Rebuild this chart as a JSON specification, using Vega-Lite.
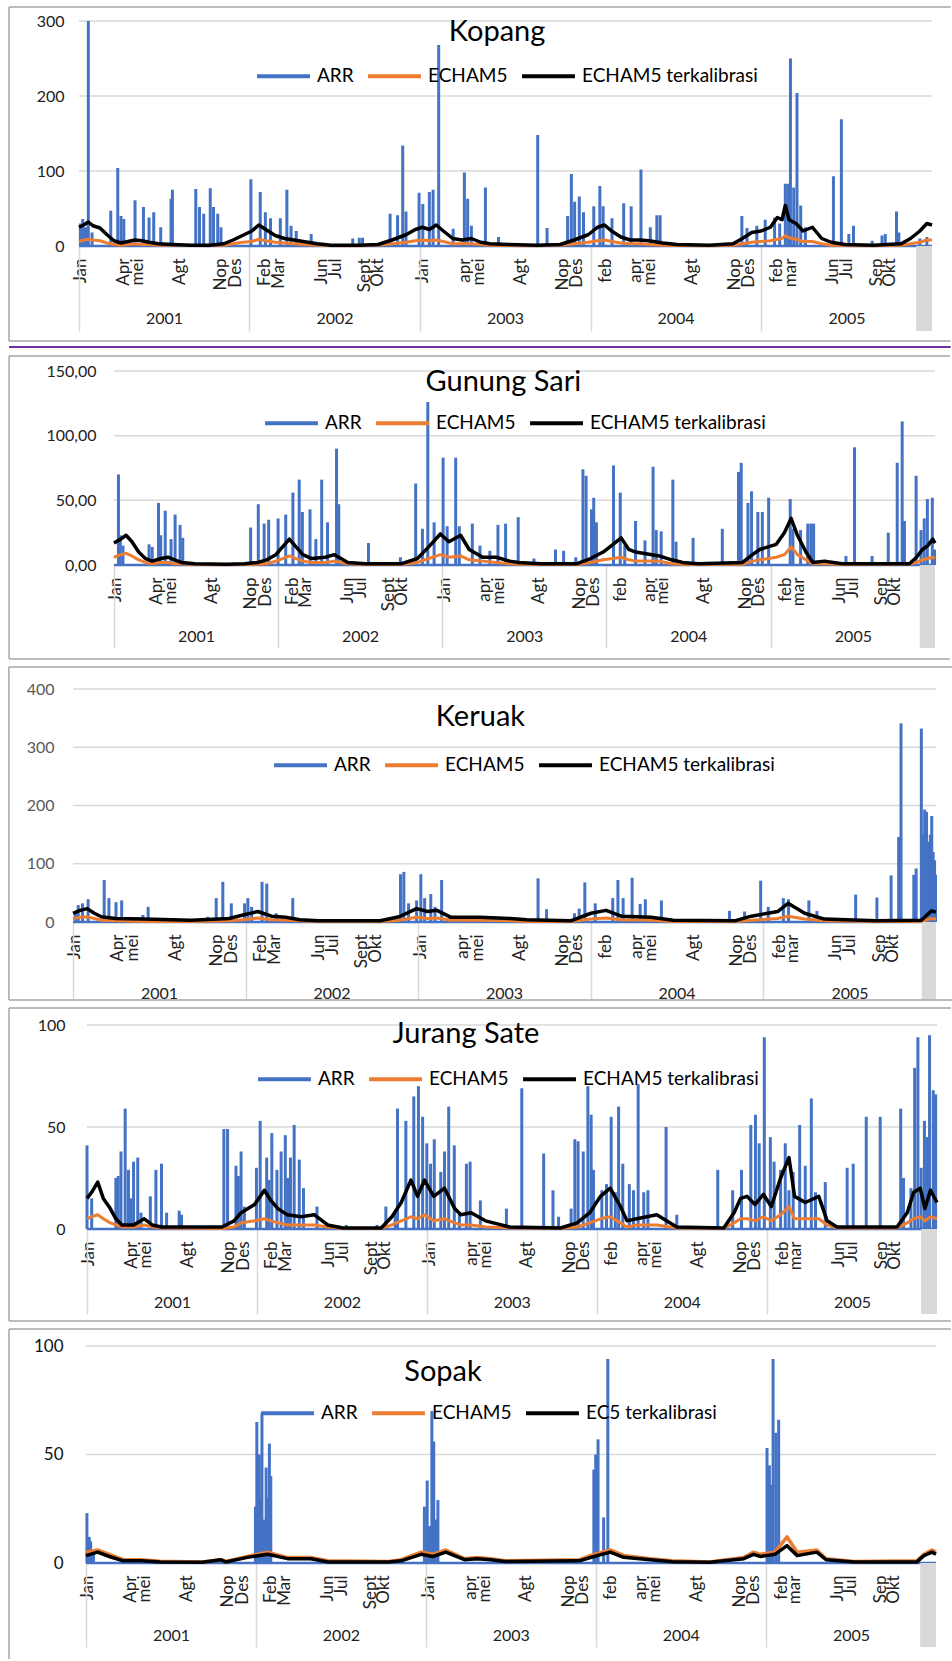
{
"$schema":"https://vega.github.io/schema/vega-lite/v6.json",
"padding":{"left":8,"top":6,"right":0,"bottom":0},
"spacing":6,
"background":"white",
"datasets":{
"kA":[{"d":3,"a":30},{"d":8,"a":36},{"d":14,"a":25},{"d":20,"a":300},{"d":28,"a":18},{"d":68,"a":47},{"d":83,"a":104},{"d":90,"a":40},{"d":96,"a":36},{"d":120,"a":61},{"d":138,"a":52},{"d":150,"a":38},{"d":160,"a":45},{"d":175,"a":25},{"d":197,"a":63},{"d":200,"a":75},{"d":250,"a":76},{"d":258,"a":52},{"d":267,"a":43},{"d":281,"a":77},{"d":288,"a":52},{"d":297,"a":43},{"d":304,"a":25},{"d":368,"a":89},{"d":388,"a":72},{"d":399,"a":45},{"d":410,"a":37},{"d":431,"a":37},{"d":445,"a":75},{"d":454,"a":27},{"d":465,"a":20},{"d":497,"a":16},{"d":586,"a":10},{"d":600,"a":11},{"d":607,"a":11},{"d":666,"a":43},{"d":682,"a":41},{"d":693,"a":134},{"d":700,"a":46},{"d":728,"a":71},{"d":736,"a":56},{"d":750,"a":72},{"d":758,"a":75},{"d":770,"a":268},{"d":801,"a":23},{"d":825,"a":98},{"d":832,"a":63},{"d":840,"a":27},{"d":870,"a":78},{"d":898,"a":12},{"d":982,"a":148},{"d":1002,"a":24},{"d":1046,"a":40},{"d":1054,"a":96},{"d":1061,"a":59},{"d":1071,"a":66},{"d":1080,"a":45},{"d":1102,"a":53},{"d":1115,"a":80},{"d":1122,"a":53},{"d":1141,"a":37},{"d":1166,"a":57},{"d":1182,"a":53},{"d":1203,"a":102},{"d":1223,"a":25},{"d":1237,"a":41},{"d":1244,"a":41},{"d":1419,"a":40},{"d":1430,"a":24},{"d":1451,"a":27},{"d":1469,"a":35},{"d":1489,"a":38},{"d":1500,"a":30},{"d":1512,"a":83},{"d":1518,"a":83},{"d":1523,"a":250},{"d":1530,"a":78},{"d":1537,"a":204},{"d":1545,"a":54},{"d":1555,"a":25},{"d":1615,"a":93},{"d":1632,"a":169},{"d":1648,"a":16},{"d":1658,"a":27},{"d":1698,"a":7},{"d":1719,"a":14},{"d":1726,"a":16},{"d":1750,"a":46},{"d":1755,"a":18},{"d":1800,"a":10},{"d":1815,"a":12}],
"kM":[{"d":0,"e":6,"k":25},{"d":10,"e":8,"k":28},{"d":20,"e":9,"k":32},{"d":30,"e":8,"k":27},{"d":45,"e":7,"k":24},{"d":60,"e":4,"k":15},{"d":75,"e":2,"k":7},{"d":90,"e":1,"k":4},{"d":105,"e":2,"k":6},{"d":120,"e":3,"k":8},{"d":135,"e":2,"k":7},{"d":150,"e":2,"k":5},{"d":170,"e":1,"k":3},{"d":200,"e":1,"k":2},{"d":240,"e":0.5,"k":1},{"d":280,"e":0.5,"k":1},{"d":310,"e":1,"k":3},{"d":330,"e":3,"k":8},{"d":350,"e":5,"k":14},{"d":370,"e":6,"k":20},{"d":385,"e":9,"k":28},{"d":400,"e":7,"k":22},{"d":420,"e":5,"k":14},{"d":440,"e":4,"k":10},{"d":460,"e":3,"k":8},{"d":480,"e":2,"k":6},{"d":510,"e":1,"k":3},{"d":540,"e":0.5,"k":1},{"d":600,"e":0.5,"k":1},{"d":640,"e":1,"k":2},{"d":670,"e":3,"k":8},{"d":700,"e":5,"k":15},{"d":720,"e":7,"k":22},{"d":735,"e":8,"k":25},{"d":750,"e":7,"k":22},{"d":765,"e":8,"k":28},{"d":780,"e":6,"k":20},{"d":800,"e":3,"k":10},{"d":820,"e":3,"k":8},{"d":840,"e":3,"k":10},{"d":860,"e":2,"k":5},{"d":880,"e":1,"k":3},{"d":920,"e":0.5,"k":2},{"d":980,"e":0.3,"k":1},{"d":1030,"e":1,"k":2},{"d":1060,"e":3,"k":8},{"d":1090,"e":5,"k":15},{"d":1110,"e":7,"k":25},{"d":1125,"e":8,"k":28},{"d":1140,"e":6,"k":20},{"d":1160,"e":4,"k":12},{"d":1180,"e":3,"k":8},{"d":1200,"e":3,"k":8},{"d":1220,"e":2,"k":7},{"d":1250,"e":1,"k":4},{"d":1280,"e":0.5,"k":2},{"d":1350,"e":0.3,"k":1},{"d":1400,"e":1,"k":3},{"d":1420,"e":3,"k":10},{"d":1440,"e":5,"k":18},{"d":1460,"e":6,"k":20},{"d":1480,"e":7,"k":25},{"d":1495,"e":9,"k":38},{"d":1505,"e":10,"k":35},{"d":1512,"e":14,"k":54},{"d":1520,"e":11,"k":35},{"d":1535,"e":9,"k":30},{"d":1550,"e":6,"k":20},{"d":1570,"e":6,"k":25},{"d":1590,"e":3,"k":10},{"d":1610,"e":1,"k":5},{"d":1640,"e":0.5,"k":2},{"d":1700,"e":0.3,"k":1},{"d":1760,"e":1,"k":3},{"d":1780,"e":3,"k":10},{"d":1800,"e":5,"k":20},{"d":1815,"e":8,"k":30},{"d":1826,"e":8,"k":28}],
"gA":[{"d":10,"a":70},{"d":14,"a":23},{"d":20,"a":15},{"d":78,"a":16},{"d":85,"a":14},{"d":99,"a":48},{"d":104,"a":23},{"d":114,"a":42},{"d":127,"a":20},{"d":136,"a":39},{"d":147,"a":31},{"d":153,"a":21},{"d":304,"a":29},{"d":321,"a":47},{"d":334,"a":32},{"d":344,"a":35},{"d":365,"a":36},{"d":382,"a":39},{"d":398,"a":56},{"d":412,"a":66},{"d":419,"a":41},{"d":436,"a":43},{"d":449,"a":20},{"d":462,"a":66},{"d":475,"a":33},{"d":495,"a":90},{"d":500,"a":47},{"d":566,"a":17},{"d":637,"a":6},{"d":671,"a":63},{"d":686,"a":28},{"d":698,"a":126},{"d":712,"a":33},{"d":732,"a":83},{"d":741,"a":30},{"d":760,"a":83},{"d":768,"a":30},{"d":797,"a":32},{"d":814,"a":15},{"d":836,"a":11},{"d":854,"a":31},{"d":871,"a":32},{"d":899,"a":37},{"d":934,"a":5},{"d":982,"a":12},{"d":1000,"a":11},{"d":1027,"a":6},{"d":1043,"a":74},{"d":1050,"a":69},{"d":1062,"a":43},{"d":1067,"a":52},{"d":1073,"a":33},{"d":1111,"a":77},{"d":1126,"a":56},{"d":1136,"a":15},{"d":1160,"a":34},{"d":1181,"a":19},{"d":1199,"a":76},{"d":1206,"a":27},{"d":1217,"a":26},{"d":1243,"a":66},{"d":1250,"a":18},{"d":1288,"a":21},{"d":1353,"a":28},{"d":1389,"a":72},{"d":1395,"a":79},{"d":1410,"a":48},{"d":1418,"a":57},{"d":1432,"a":41},{"d":1442,"a":41},{"d":1456,"a":52},{"d":1504,"a":51},{"d":1510,"a":28},{"d":1527,"a":27},{"d":1543,"a":32},{"d":1550,"a":32},{"d":1556,"a":32},{"d":1628,"a":7},{"d":1647,"a":91},{"d":1686,"a":7},{"d":1722,"a":25},{"d":1742,"a":79},{"d":1753,"a":111},{"d":1758,"a":34},{"d":1784,"a":69},{"d":1795,"a":27},{"d":1802,"a":36},{"d":1809,"a":51},{"d":1820,"a":52},{"d":1825,"a":12}],
"gM":[{"d":0,"e":6,"k":17},{"d":15,"e":8,"k":20},{"d":27,"e":9,"k":23},{"d":40,"e":7,"k":18},{"d":55,"e":4,"k":10},{"d":70,"e":2,"k":5},{"d":85,"e":1,"k":3},{"d":105,"e":2,"k":5},{"d":120,"e":2,"k":6},{"d":135,"e":1,"k":4},{"d":150,"e":1,"k":2},{"d":180,"e":0.3,"k":1},{"d":250,"e":0.2,"k":0.5},{"d":290,"e":0.3,"k":1},{"d":320,"e":0.5,"k":2},{"d":340,"e":1,"k":4},{"d":360,"e":3,"k":8},{"d":375,"e":5,"k":14},{"d":390,"e":7,"k":20},{"d":405,"e":5,"k":14},{"d":420,"e":3,"k":8},{"d":440,"e":2,"k":5},{"d":470,"e":2,"k":6},{"d":490,"e":3,"k":8},{"d":505,"e":2,"k":5},{"d":520,"e":1,"k":2},{"d":560,"e":0.3,"k":1},{"d":640,"e":0.3,"k":1},{"d":675,"e":2,"k":5},{"d":700,"e":5,"k":14},{"d":726,"e":8,"k":24},{"d":745,"e":6,"k":18},{"d":771,"e":7,"k":23},{"d":790,"e":4,"k":12},{"d":820,"e":3,"k":6},{"d":850,"e":2,"k":6},{"d":880,"e":1,"k":3},{"d":900,"e":0.5,"k":2},{"d":950,"e":0.3,"k":1},{"d":1030,"e":0.3,"k":1},{"d":1060,"e":2,"k":5},{"d":1088,"e":4,"k":10},{"d":1110,"e":5,"k":16},{"d":1128,"e":6,"k":21},{"d":1145,"e":4,"k":12},{"d":1160,"e":3,"k":10},{"d":1213,"e":3,"k":7},{"d":1240,"e":1,"k":4},{"d":1265,"e":0.5,"k":2},{"d":1300,"e":0.3,"k":1},{"d":1398,"e":0.5,"k":2},{"d":1420,"e":3,"k":8},{"d":1436,"e":4,"k":12},{"d":1473,"e":6,"k":16},{"d":1491,"e":8,"k":25},{"d":1506,"e":14,"k":36},{"d":1520,"e":8,"k":23},{"d":1539,"e":4,"k":10},{"d":1554,"e":1,"k":2},{"d":1580,"e":1,"k":3},{"d":1620,"e":0.3,"k":1},{"d":1769,"e":0.5,"k":1},{"d":1785,"e":2,"k":6},{"d":1798,"e":4,"k":12},{"d":1810,"e":5,"k":15},{"d":1821,"e":6,"k":20},{"d":1826,"e":5,"k":17}],
"rA":[{"d":5,"a":15},{"d":11,"a":29},{"d":20,"a":32},{"d":32,"a":39},{"d":66,"a":72},{"d":76,"a":41},{"d":91,"a":34},{"d":103,"a":37},{"d":148,"a":12},{"d":159,"a":26},{"d":285,"a":9},{"d":303,"a":41},{"d":317,"a":69},{"d":335,"a":32},{"d":363,"a":32},{"d":370,"a":41},{"d":378,"a":26},{"d":400,"a":69},{"d":410,"a":66},{"d":430,"a":15},{"d":465,"a":41},{"d":693,"a":82},{"d":700,"a":86},{"d":710,"a":32},{"d":727,"a":37},{"d":736,"a":82},{"d":744,"a":41},{"d":757,"a":48},{"d":766,"a":26},{"d":780,"a":72},{"d":797,"a":12},{"d":898,"a":9},{"d":984,"a":75},{"d":1002,"a":22},{"d":1061,"a":15},{"d":1071,"a":23},{"d":1083,"a":68},{"d":1105,"a":32},{"d":1142,"a":41},{"d":1153,"a":72},{"d":1164,"a":41},{"d":1183,"a":76},{"d":1200,"a":31},{"d":1211,"a":39},{"d":1245,"a":37},{"d":1389,"a":19},{"d":1421,"a":18},{"d":1455,"a":71},{"d":1471,"a":26},{"d":1503,"a":41},{"d":1514,"a":39},{"d":1557,"a":37},{"d":1574,"a":19},{"d":1656,"a":47},{"d":1701,"a":42},{"d":1731,"a":80},{"d":1747,"a":146},{"d":1752,"a":341},{"d":1779,"a":81},{"d":1784,"a":92},{"d":1795,"a":332},{"d":1800,"a":150},{"d":1802,"a":193},{"d":1806,"a":189},{"d":1810,"a":138},{"d":1814,"a":150},{"d":1817,"a":182},{"d":1820,"a":120},{"d":1823,"a":106},{"d":1825,"a":81}],
"rM":[{"d":0,"e":6,"k":15},{"d":15,"e":8,"k":20},{"d":30,"e":9,"k":23},{"d":45,"e":6,"k":15},{"d":60,"e":3,"k":9},{"d":90,"e":2,"k":6},{"d":150,"e":1,"k":5},{"d":250,"e":1,"k":3},{"d":330,"e":2,"k":6},{"d":360,"e":4,"k":12},{"d":391,"e":7,"k":18},{"d":420,"e":4,"k":10},{"d":450,"e":3,"k":8},{"d":480,"e":2,"k":4},{"d":520,"e":1,"k":2},{"d":650,"e":1,"k":2},{"d":690,"e":3,"k":9},{"d":727,"e":8,"k":23},{"d":750,"e":6,"k":18},{"d":770,"e":7,"k":20},{"d":800,"e":3,"k":8},{"d":860,"e":3,"k":8},{"d":926,"e":2,"k":6},{"d":960,"e":1,"k":4},{"d":1053,"e":1,"k":2},{"d":1096,"e":5,"k":15},{"d":1128,"e":7,"k":20},{"d":1160,"e":4,"k":10},{"d":1223,"e":3,"k":8},{"d":1270,"e":1,"k":3},{"d":1400,"e":1,"k":2},{"d":1435,"e":3,"k":10},{"d":1491,"e":6,"k":18},{"d":1513,"e":10,"k":32},{"d":1548,"e":5,"k":15},{"d":1590,"e":2,"k":5},{"d":1700,"e":1,"k":2},{"d":1795,"e":1,"k":3},{"d":1816,"e":6,"k":19},{"d":1826,"e":5,"k":17}],
"jA":[{"d":0,"a":41},{"d":10,"a":15},{"d":62,"a":25},{"d":67,"a":26},{"d":73,"a":38},{"d":82,"a":59},{"d":89,"a":29},{"d":94,"a":15},{"d":100,"a":33},{"d":109,"a":35},{"d":116,"a":8},{"d":136,"a":16},{"d":148,"a":29},{"d":160,"a":32},{"d":171,"a":8},{"d":198,"a":9},{"d":203,"a":7},{"d":294,"a":49},{"d":302,"a":49},{"d":320,"a":31},{"d":325,"a":26},{"d":331,"a":38},{"d":338,"a":11},{"d":364,"a":30},{"d":372,"a":53},{"d":386,"a":35},{"d":391,"a":24},{"d":397,"a":47},{"d":408,"a":29},{"d":417,"a":38},{"d":426,"a":46},{"d":431,"a":25},{"d":437,"a":35},{"d":445,"a":51},{"d":456,"a":34},{"d":465,"a":20},{"d":494,"a":11},{"d":557,"a":2},{"d":623,"a":2},{"d":642,"a":11},{"d":662,"a":9},{"d":667,"a":59},{"d":685,"a":53},{"d":702,"a":65},{"d":712,"a":70},{"d":721,"a":55},{"d":730,"a":42},{"d":738,"a":32},{"d":746,"a":44},{"d":760,"a":28},{"d":768,"a":38},{"d":777,"a":60},{"d":789,"a":41},{"d":800,"a":8},{"d":815,"a":32},{"d":823,"a":33},{"d":845,"a":14},{"d":901,"a":10},{"d":934,"a":69},{"d":981,"a":37},{"d":1001,"a":19},{"d":1013,"a":6},{"d":1040,"a":10},{"d":1048,"a":44},{"d":1055,"a":43},{"d":1066,"a":38},{"d":1076,"a":70},{"d":1083,"a":56},{"d":1088,"a":29},{"d":1106,"a":19},{"d":1116,"a":22},{"d":1126,"a":55},{"d":1135,"a":18},{"d":1142,"a":60},{"d":1151,"a":32},{"d":1165,"a":22},{"d":1174,"a":19},{"d":1184,"a":71},{"d":1196,"a":18},{"d":1205,"a":19},{"d":1244,"a":50},{"d":1267,"a":7},{"d":1355,"a":29},{"d":1387,"a":19},{"d":1406,"a":29},{"d":1426,"a":51},{"d":1436,"a":56},{"d":1444,"a":42},{"d":1455,"a":94},{"d":1468,"a":45},{"d":1476,"a":33},{"d":1490,"a":29},{"d":1500,"a":42},{"d":1508,"a":19},{"d":1517,"a":28},{"d":1531,"a":51},{"d":1543,"a":31},{"d":1556,"a":64},{"d":1565,"a":18},{"d":1586,"a":23},{"d":1633,"a":30},{"d":1646,"a":32},{"d":1674,"a":55},{"d":1704,"a":55},{"d":1748,"a":59},{"d":1754,"a":25},{"d":1770,"a":20},{"d":1778,"a":79},{"d":1785,"a":94},{"d":1792,"a":30},{"d":1799,"a":53},{"d":1805,"a":45},{"d":1810,"a":95},{"d":1818,"a":68},{"d":1823,"a":66}],
"jM":[{"d":0,"e":5,"k":15},{"d":10,"e":6,"k":18},{"d":23,"e":7,"k":23},{"d":35,"e":5,"k":15},{"d":50,"e":3,"k":10},{"d":62,"e":2,"k":5},{"d":75,"e":1,"k":2},{"d":100,"e":1,"k":2},{"d":123,"e":2,"k":5},{"d":140,"e":1,"k":2},{"d":160,"e":0.5,"k":1},{"d":290,"e":0.3,"k":1},{"d":316,"e":1,"k":4},{"d":331,"e":3,"k":8},{"d":360,"e":4,"k":12},{"d":381,"e":5,"k":19},{"d":395,"e":4,"k":14},{"d":410,"e":3,"k":10},{"d":430,"e":2,"k":7},{"d":460,"e":2,"k":6},{"d":488,"e":2,"k":7},{"d":517,"e":1,"k":2},{"d":550,"e":0.3,"k":0.5},{"d":632,"e":0.3,"k":0.5},{"d":655,"e":2,"k":6},{"d":675,"e":4,"k":13},{"d":696,"e":6,"k":24},{"d":710,"e":5,"k":16},{"d":725,"e":7,"k":24},{"d":745,"e":4,"k":16},{"d":768,"e":5,"k":20},{"d":790,"e":3,"k":10},{"d":803,"e":2,"k":7},{"d":825,"e":2,"k":8},{"d":856,"e":1,"k":4},{"d":908,"e":0.5,"k":1},{"d":1017,"e":0.3,"k":0.5},{"d":1053,"e":1,"k":3},{"d":1080,"e":3,"k":8},{"d":1103,"e":5,"k":16},{"d":1124,"e":6,"k":20},{"d":1146,"e":3,"k":11},{"d":1160,"e":1,"k":4},{"d":1181,"e":2,"k":5},{"d":1224,"e":2,"k":7},{"d":1267,"e":0.5,"k":1},{"d":1368,"e":0.3,"k":0.5},{"d":1390,"e":3,"k":8},{"d":1404,"e":5,"k":15},{"d":1418,"e":5,"k":16},{"d":1435,"e":4,"k":12},{"d":1453,"e":6,"k":17},{"d":1470,"e":4,"k":11},{"d":1490,"e":7,"k":25},{"d":1508,"e":11,"k":35},{"d":1520,"e":5,"k":16},{"d":1543,"e":5,"k":13},{"d":1572,"e":5,"k":16},{"d":1590,"e":2,"k":4},{"d":1611,"e":0.5,"k":1},{"d":1740,"e":0.5,"k":1},{"d":1762,"e":3,"k":8},{"d":1776,"e":5,"k":18},{"d":1790,"e":6,"k":20},{"d":1800,"e":4,"k":10},{"d":1812,"e":6,"k":19},{"d":1826,"e":5,"k":13}],
"sA":[{"d":2,"a":23},{"d":5,"a":12},{"d":7,"a":12},{"d":10,"a":10},{"d":16,"a":5},{"d":364,"a":26},{"d":367,"a":65},{"d":370,"a":40},{"d":372,"a":50},{"d":375,"a":30},{"d":378,"a":69},{"d":382,"a":20},{"d":387,"a":44},{"d":391,"a":30},{"d":394,"a":55},{"d":397,"a":40},{"d":727,"a":26},{"d":733,"a":38},{"d":738,"a":17},{"d":743,"a":70},{"d":747,"a":56},{"d":751,"a":20},{"d":756,"a":29},{"d":1091,"a":43},{"d":1095,"a":50},{"d":1100,"a":57},{"d":1112,"a":21},{"d":1121,"a":94},{"d":1463,"a":53},{"d":1468,"a":45},{"d":1472,"a":36},{"d":1476,"a":94},{"d":1482,"a":60},{"d":1488,"a":66}],
"sM":[{"d":0,"e":5,"k":3.4},{"d":25,"e":6,"k":5},{"d":50,"e":4,"k":3},{"d":80,"e":1.5,"k":1},{"d":118,"e":1.5,"k":1},{"d":160,"e":0.8,"k":0.5},{"d":250,"e":0.5,"k":0.3},{"d":290,"e":1.5,"k":1.5},{"d":300,"e":0.7,"k":0.5},{"d":347,"e":3,"k":2.6},{"d":390,"e":5,"k":4},{"d":433,"e":2.5,"k":2},{"d":483,"e":2.5,"k":2},{"d":520,"e":1,"k":0.5},{"d":650,"e":0.7,"k":0.5},{"d":677,"e":1.5,"k":1},{"d":720,"e":5,"k":4},{"d":745,"e":4,"k":3},{"d":773,"e":6,"k":5},{"d":813,"e":2,"k":1.5},{"d":840,"e":2.5,"k":2},{"d":869,"e":2,"k":1.5},{"d":900,"e":1,"k":0.7},{"d":1060,"e":1.5,"k":1},{"d":1091,"e":4,"k":3},{"d":1126,"e":6,"k":5},{"d":1155,"e":3.5,"k":2.6},{"d":1212,"e":2,"k":1.5},{"d":1260,"e":1,"k":0.6},{"d":1340,"e":0.5,"k":0.3},{"d":1413,"e":2.5,"k":2},{"d":1434,"e":5,"k":4},{"d":1449,"e":4,"k":3},{"d":1480,"e":5,"k":4},{"d":1506,"e":12,"k":8},{"d":1528,"e":5,"k":3.4},{"d":1570,"e":6,"k":5},{"d":1590,"e":2,"k":1.5},{"d":1650,"e":0.7,"k":0.5},{"d":1785,"e":1,"k":0.5},{"d":1800,"e":4,"k":3.4},{"d":1817,"e":6,"k":5},{"d":1826,"e":5,"k":4}]
},
"vconcat":[
{"width":859,"height":225,"resolve":{"axis":{"x":"independent"}},"layer":[
{"data":{"values":[{}]},"mark":{"type":"rule","color":"#d9d9d9","strokeWidth":1.5},"encoding":{"x":{"datum":0,"type":"quantitative","axis":null},"x2":{"datum":1826},"y":{"datum":0,"type":"quantitative"}}},
{"data":{"values":[{}]},"mark":{"type":"rule","color":"#d9d9d9","strokeWidth":1.5},"encoding":{"x":{"datum":0,"type":"quantitative","axis":null},"x2":{"datum":1826},"y":{"datum":100,"type":"quantitative"}}},
{"data":{"values":[{}]},"mark":{"type":"rule","color":"#d9d9d9","strokeWidth":1.5},"encoding":{"x":{"datum":0,"type":"quantitative","axis":null},"x2":{"datum":1826},"y":{"datum":200,"type":"quantitative"}}},
{"data":{"values":[{}]},"mark":{"type":"rule","color":"#d9d9d9","strokeWidth":1.5},"encoding":{"x":{"datum":0,"type":"quantitative","axis":null},"x2":{"datum":1826},"y":{"datum":300,"type":"quantitative"}}},
{"data":{"name":"kA"},"mark":{"type":"rule","strokeWidth":3},"encoding":{
"x":{"field":"d","type":"quantitative","scale":{"domain":[-12.8,1826],"nice":false,"zero":false},"axis":{"orient":"bottom","title":null,"values":[4,95,126,216,304,336,397,427,519,549,611,639,736,825,856,945,1036,1066,1127,1192,1221,1312,1404,1433,1494,1523,1614,1643,1707,1735],"labelExpr":"['Jan','Apr','mei','Agt','Nop','Des','Feb','Mar','Jun','Jul','Sept','Okt','Jan','apr','mei','Agt','Nop','Des','feb','apr','mei','Agt','Nop','Des','feb','mar','Jun','Jul','Sep','Okt'][indexof([4,95,126,216,304,336,397,427,519,549,611,639,736,825,856,945,1036,1066,1127,1192,1221,1312,1404,1433,1494,1523,1614,1643,1707,1735],datum.value)]","labelAngle":-90,"labelAlign":"right","labelBaseline":"middle","ticks":false,"tickSize":0,"labelPadding":12,"grid":false,"domain":false,"labelOverlap":false,"labelFlush":false,"labelBound":false,"labelFontSize":17,"labelColor":"#222"}},
"y":{"field":"a","type":"quantitative","scale":{"domain":[0,300],"nice":false},"axis":{"title":null,"values":[0,100,200,300],"offset":-6,"domain":false,"ticks":false,"tickSize":0,"grid":false,"labelFontSize":16,"labelPadding":15,"labelColor":"#222"}},
"y2":{"datum":0},
"color":{"datum":"ARR","type":"nominal","scale":{"domain":["ARR","ECHAM5","ECHAM5 terkalibrasi"],"range":["#4472C4","#ED7D31","#000000"]},"legend":{"orient":"none","legendX":182,"legendY":26.5,"direction":"horizontal","title":null}}}},
{"data":{"values":[{}]},"mark":{"type":"rule","strokeWidth":2.5,"color":"#4472C4"},"encoding":{"x":{"datum":0,"type":"quantitative","axis":null},"x2":{"datum":1826},"y":{"datum":0,"type":"quantitative"}}},
{"data":{"name":"kM"},"mark":{"type":"line","strokeWidth":3,"strokeJoin":"round"},"encoding":{
"x":{"field":"d","type":"quantitative","axis":{"orient":"bottom","title":null,"values":[0,365,730,1095,1461],"labelExpr":"'' + (2001 + round(datum.value / 365.25))","labelOffset":85,"ticks":true,"tickSize":85,"tickColor":"#d9d9d9","tickWidth":1.5,"domain":false,"grid":false,"labelPadding":-13,"labelBaseline":"middle","labelAlign":"center","labelAngle":0,"labelFontSize":16,"labelFlush":false,"labelOverlap":false,"labelBound":false,"labelColor":"#222"}},
"y":{"field":"e","type":"quantitative"},"color":{"datum":"ECHAM5","type":"nominal"}}},
{"data":{"name":"kM"},"mark":{"type":"line","strokeWidth":3.5,"strokeJoin":"round"},"encoding":{"x":{"field":"d","type":"quantitative","axis":null},"y":{"field":"k","type":"quantitative"},"color":{"datum":"ECHAM5 terkalibrasi","type":"nominal"}}},
{"data":{"values":[{}]},"mark":{"type":"rect","color":"#d9d9d9"},"encoding":{"x":{"datum":1792,"type":"quantitative","axis":null},"x2":{"datum":1826},"y":{"datum":0,"type":"quantitative"},"y2":{"datum":-113.3}}},
{"data":{"values":[{}]},"mark":{"type":"text","text":"Kopang","fontSize":29,"align":"center","baseline":"middle","color":"#000"},"encoding":{"x":{"datum":895,"type":"quantitative","axis":null},"y":{"datum":285,"type":"quantitative"}}},
{"data":{"values":[{}]},"mark":{"type":"rule","color":"#a6a6a6","strokeWidth":1.5},"encoding":{"x":{"datum":-149.8,"type":"quantitative","axis":null},"x2":{"datum":1866},"y":{"datum":318.7,"type":"quantitative"}}},
{"data":{"values":[{}]},"mark":{"type":"rule","color":"#a6a6a6","strokeWidth":1.5},"encoding":{"x":{"datum":-149.8,"type":"quantitative","axis":null},"y":{"datum":318.7,"type":"quantitative"},"y2":{"datum":-126.7}}},
{"data":{"values":[{}]},"mark":{"type":"rule","color":"#a6a6a6","strokeWidth":1.5},"encoding":{"x":{"datum":-149.8,"type":"quantitative","axis":null},"x2":{"datum":1866},"y":{"datum":-126.7,"type":"quantitative"}}},
{"data":{"values":[{}]},"mark":{"type":"rule","color":"#7030A0","strokeWidth":2},"encoding":{"x":{"datum":-149.8,"type":"quantitative","axis":null},"x2":{"datum":1866},"y":{"datum":-134.7,"type":"quantitative"}}}
]},
{"width":862,"height":194,"resolve":{"axis":{"x":"independent"}},"layer":[
{"data":{"values":[{}]},"mark":{"type":"rule","color":"#d9d9d9","strokeWidth":1.5},"encoding":{"x":{"datum":0,"type":"quantitative","axis":null},"x2":{"datum":1826},"y":{"datum":0,"type":"quantitative"}}},
{"data":{"values":[{}]},"mark":{"type":"rule","color":"#d9d9d9","strokeWidth":1.5},"encoding":{"x":{"datum":0,"type":"quantitative","axis":null},"x2":{"datum":1826},"y":{"datum":50,"type":"quantitative"}}},
{"data":{"values":[{}]},"mark":{"type":"rule","color":"#d9d9d9","strokeWidth":1.5},"encoding":{"x":{"datum":0,"type":"quantitative","axis":null},"x2":{"datum":1826},"y":{"datum":100,"type":"quantitative"}}},
{"data":{"values":[{}]},"mark":{"type":"rule","color":"#d9d9d9","strokeWidth":1.5},"encoding":{"x":{"datum":0,"type":"quantitative","axis":null},"x2":{"datum":1826},"y":{"datum":150,"type":"quantitative"}}},
{"data":{"name":"gA"},"mark":{"type":"rule","strokeWidth":3},"encoding":{
"x":{"field":"d","type":"quantitative","scale":{"domain":[-91.1,1826],"nice":false,"zero":false},"axis":{"orient":"bottom","title":null,"values":[4,95,126,216,304,336,397,427,519,549,611,639,736,825,856,945,1036,1066,1127,1192,1221,1312,1404,1433,1494,1523,1614,1643,1707,1735],"labelExpr":"['Jan','Apr','mei','Agt','Nop','Des','Feb','Mar','Jun','Jul','Sept','Okt','Jan','apr','mei','Agt','Nop','Des','feb','apr','mei','Agt','Nop','Des','feb','mar','Jun','Jul','Sep','Okt'][indexof([4,95,126,216,304,336,397,427,519,549,611,639,736,825,856,945,1036,1066,1127,1192,1221,1312,1404,1433,1494,1523,1614,1643,1707,1735],datum.value)]","labelAngle":-90,"labelAlign":"right","labelBaseline":"middle","ticks":false,"tickSize":0,"labelPadding":12,"grid":false,"domain":false,"labelOverlap":false,"labelFlush":false,"labelBound":false,"labelFontSize":17,"labelColor":"#222"}},
"y":{"field":"a","type":"quantitative","scale":{"domain":[0,150],"nice":false},"axis":{"title":null,"values":[0,50,100,150],"labelExpr":"replace(format(datum.value, '.2f'), '.', ',')","offset":-41,"domain":false,"ticks":false,"tickSize":0,"grid":false,"labelFontSize":16,"labelPadding":18,"labelColor":"#222"}},
"y2":{"datum":0},
"color":{"datum":"ARR","type":"nominal","scale":{"domain":["ARR","ECHAM5","ECHAM5 terkalibrasi"],"range":["#4472C4","#ED7D31","#000000"]},"legend":{"orient":"none","legendX":190,"legendY":23.5,"direction":"horizontal","title":null}}}},
{"data":{"values":[{}]},"mark":{"type":"rule","strokeWidth":2.5,"color":"#4472C4"},"encoding":{"x":{"datum":0,"type":"quantitative","axis":null},"x2":{"datum":1826},"y":{"datum":0,"type":"quantitative"}}},
{"data":{"name":"gM"},"mark":{"type":"line","strokeWidth":3,"strokeJoin":"round"},"encoding":{
"x":{"field":"d","type":"quantitative","axis":{"orient":"bottom","title":null,"values":[0,365,730,1095,1461],"labelExpr":"'' + (2001 + round(datum.value / 365.25))","labelOffset":82,"ticks":true,"tickSize":83,"tickColor":"#d9d9d9","tickWidth":1.5,"domain":false,"grid":false,"labelPadding":-12,"labelBaseline":"middle","labelAlign":"center","labelAngle":0,"labelFontSize":16,"labelFlush":false,"labelOverlap":false,"labelBound":false,"labelColor":"#222"}},
"y":{"field":"e","type":"quantitative"},"color":{"datum":"ECHAM5","type":"nominal"}}},
{"data":{"name":"gM"},"mark":{"type":"line","strokeWidth":3.5,"strokeJoin":"round"},"encoding":{"x":{"field":"d","type":"quantitative","axis":null},"y":{"field":"k","type":"quantitative"},"color":{"datum":"ECHAM5 terkalibrasi","type":"nominal"}}},
{"data":{"values":[{}]},"mark":{"type":"rect","color":"#d9d9d9"},"encoding":{"x":{"datum":1792,"type":"quantitative","axis":null},"x2":{"datum":1826},"y":{"datum":0,"type":"quantitative"},"y2":{"datum":-64.2}}},
{"data":{"values":[{}]},"mark":{"type":"text","text":"Gunung Sari","fontSize":29,"align":"center","baseline":"middle","color":"#000"},"encoding":{"x":{"datum":866,"type":"quantitative","axis":null},"y":{"datum":141.5,"type":"quantitative"}}},
{"data":{"values":[{}]},"mark":{"type":"rule","color":"#a6a6a6","strokeWidth":1.5},"encoding":{"x":{"datum":-233.2,"type":"quantitative","axis":null},"x2":{"datum":1859.2},"y":{"datum":161.6,"type":"quantitative"}}},
{"data":{"values":[{}]},"mark":{"type":"rule","color":"#a6a6a6","strokeWidth":1.5},"encoding":{"x":{"datum":-233.2,"type":"quantitative","axis":null},"y":{"datum":161.6,"type":"quantitative"},"y2":{"datum":-72.7}}},
{"data":{"values":[{}]},"mark":{"type":"rule","color":"#a6a6a6","strokeWidth":1.5},"encoding":{"x":{"datum":-233.2,"type":"quantitative","axis":null},"x2":{"datum":1859.2},"y":{"datum":-72.7,"type":"quantitative"}}}
]},
{"width":863,"height":233,"resolve":{"axis":{"x":"independent"}},"layer":[
{"data":{"values":[{}]},"mark":{"type":"rule","color":"#d9d9d9","strokeWidth":1.5},"encoding":{"x":{"datum":0,"type":"quantitative","axis":null},"x2":{"datum":1826},"y":{"datum":0,"type":"quantitative"}}},
{"data":{"values":[{}]},"mark":{"type":"rule","color":"#d9d9d9","strokeWidth":1.5},"encoding":{"x":{"datum":0,"type":"quantitative","axis":null},"x2":{"datum":1826},"y":{"datum":100,"type":"quantitative"}}},
{"data":{"values":[{}]},"mark":{"type":"rule","color":"#d9d9d9","strokeWidth":1.5},"encoding":{"x":{"datum":0,"type":"quantitative","axis":null},"x2":{"datum":1826},"y":{"datum":200,"type":"quantitative"}}},
{"data":{"values":[{}]},"mark":{"type":"rule","color":"#d9d9d9","strokeWidth":1.5},"encoding":{"x":{"datum":0,"type":"quantitative","axis":null},"x2":{"datum":1826},"y":{"datum":300,"type":"quantitative"}}},
{"data":{"values":[{}]},"mark":{"type":"rule","color":"#d9d9d9","strokeWidth":1.5},"encoding":{"x":{"datum":0,"type":"quantitative","axis":null},"x2":{"datum":1826},"y":{"datum":400,"type":"quantitative"}}},
{"data":{"name":"rA"},"mark":{"type":"rule","strokeWidth":3},"encoding":{
"x":{"field":"d","type":"quantitative","scale":{"domain":[0,1826],"nice":false,"zero":false},"axis":{"orient":"bottom","title":null,"values":[4,95,126,216,304,336,397,427,519,549,611,639,736,825,856,945,1036,1066,1127,1192,1221,1312,1404,1433,1494,1523,1614,1643,1707,1735],"labelExpr":"['Jan','Apr','mei','Agt','Nop','Des','Feb','Mar','Jun','Jul','Sept','Okt','Jan','apr','mei','Agt','Nop','Des','feb','apr','mei','Agt','Nop','Des','feb','mar','Jun','Jul','Sep','Okt'][indexof([4,95,126,216,304,336,397,427,519,549,611,639,736,825,856,945,1036,1066,1127,1192,1221,1312,1404,1433,1494,1523,1614,1643,1707,1735],datum.value)]","labelAngle":-90,"labelAlign":"right","labelBaseline":"middle","ticks":false,"tickSize":0,"labelPadding":12,"grid":false,"domain":false,"labelOverlap":false,"labelFlush":false,"labelBound":false,"labelFontSize":17,"labelColor":"#222"}},
"y":{"field":"a","type":"quantitative","scale":{"domain":[0,400],"nice":false},"axis":{"title":null,"values":[0,100,200,300,400],"domain":false,"ticks":false,"tickSize":0,"grid":false,"labelFontSize":16,"labelPadding":19,"labelColor":"#595959"}},
"y2":{"datum":0},
"color":{"datum":"ARR","type":"nominal","scale":{"domain":["ARR","ECHAM5","ECHAM5 terkalibrasi"],"range":["#4472C4","#ED7D31","#000000"]},"legend":{"orient":"none","legendX":199,"legendY":47.5,"direction":"horizontal","title":null}}}},
{"data":{"values":[{}]},"mark":{"type":"rule","strokeWidth":2.5,"color":"#4472C4"},"encoding":{"x":{"datum":0,"type":"quantitative","axis":null},"x2":{"datum":1826},"y":{"datum":0,"type":"quantitative"}}},
{"data":{"name":"rM"},"mark":{"type":"line","strokeWidth":3,"strokeJoin":"round"},"encoding":{
"x":{"field":"d","type":"quantitative","axis":{"orient":"bottom","title":null,"values":[0,365,730,1095,1461],"labelExpr":"'' + (2001 + round(datum.value / 365.25))","labelOffset":86,"ticks":true,"tickSize":78,"tickColor":"#d9d9d9","tickWidth":1.5,"domain":false,"grid":false,"labelPadding":-7,"labelBaseline":"middle","labelAlign":"center","labelAngle":0,"labelFontSize":16,"labelFlush":false,"labelOverlap":false,"labelBound":false,"labelColor":"#222"}},
"y":{"field":"e","type":"quantitative"},"color":{"datum":"ECHAM5","type":"nominal"}}},
{"data":{"name":"rM"},"mark":{"type":"line","strokeWidth":3.5,"strokeJoin":"round"},"encoding":{"x":{"field":"d","type":"quantitative","axis":null},"y":{"field":"k","type":"quantitative"},"color":{"datum":"ECHAM5 terkalibrasi","type":"nominal"}}},
{"data":{"values":[{}]},"mark":{"type":"rect","color":"#d9d9d9"},"encoding":{"x":{"datum":1796,"type":"quantitative","axis":null},"x2":{"datum":1826},"y":{"datum":0,"type":"quantitative"},"y2":{"datum":-133.9}}},
{"data":{"values":[{}]},"mark":{"type":"text","text":"Keruak","fontSize":29,"align":"center","baseline":"middle","color":"#000"},"encoding":{"x":{"datum":862,"type":"quantitative","axis":null},"y":{"datum":352,"type":"quantitative"}}},
{"data":{"values":[{}]},"mark":{"type":"rule","color":"#a6a6a6","strokeWidth":1.5},"encoding":{"x":{"datum":-135.6,"type":"quantitative","axis":null},"x2":{"datum":1859.8},"y":{"datum":437.8,"type":"quantitative"}}},
{"data":{"values":[{}]},"mark":{"type":"rule","color":"#a6a6a6","strokeWidth":1.5},"encoding":{"x":{"datum":-135.6,"type":"quantitative","axis":null},"y":{"datum":437.8,"type":"quantitative"},"y2":{"datum":-133.9}}},
{"data":{"values":[{}]},"mark":{"type":"rule","color":"#a6a6a6","strokeWidth":1.5},"encoding":{"x":{"datum":-135.6,"type":"quantitative","axis":null},"x2":{"datum":1859.8},"y":{"datum":-133.9,"type":"quantitative"}}}
]},
{"width":864,"height":204,"resolve":{"axis":{"x":"independent"}},"layer":[
{"data":{"values":[{}]},"mark":{"type":"rule","color":"#d9d9d9","strokeWidth":1.5},"encoding":{"x":{"datum":0,"type":"quantitative","axis":null},"x2":{"datum":1826},"y":{"datum":0,"type":"quantitative"}}},
{"data":{"values":[{}]},"mark":{"type":"rule","color":"#d9d9d9","strokeWidth":1.5},"encoding":{"x":{"datum":0,"type":"quantitative","axis":null},"x2":{"datum":1826},"y":{"datum":50,"type":"quantitative"}}},
{"data":{"values":[{}]},"mark":{"type":"rule","color":"#d9d9d9","strokeWidth":1.5},"encoding":{"x":{"datum":0,"type":"quantitative","axis":null},"x2":{"datum":1826},"y":{"datum":100,"type":"quantitative"}}},
{"data":{"name":"jA"},"mark":{"type":"rule","strokeWidth":3},"encoding":{
"x":{"field":"d","type":"quantitative","scale":{"domain":[-30.1,1826],"nice":false,"zero":false},"axis":{"orient":"bottom","title":null,"values":[4,95,126,216,304,336,397,427,519,549,611,639,736,825,856,945,1036,1066,1127,1192,1221,1312,1404,1433,1494,1523,1614,1643,1707,1735],"labelExpr":"['Jan','Apr','mei','Agt','Nop','Des','Feb','Mar','Jun','Jul','Sept','Okt','Jan','apr','mei','Agt','Nop','Des','feb','apr','mei','Agt','Nop','Des','feb','mar','Jun','Jul','Sep','Okt'][indexof([4,95,126,216,304,336,397,427,519,549,611,639,736,825,856,945,1036,1066,1127,1192,1221,1312,1404,1433,1494,1523,1614,1643,1707,1735],datum.value)]","labelAngle":-90,"labelAlign":"right","labelBaseline":"middle","ticks":false,"tickSize":0,"labelPadding":12,"grid":false,"domain":false,"labelOverlap":false,"labelFlush":false,"labelBound":false,"labelFontSize":17,"labelColor":"#222"}},
"y":{"field":"a","type":"quantitative","scale":{"domain":[0,100],"nice":false},"axis":{"title":null,"values":[0,50,100],"offset":-14,"domain":false,"ticks":false,"tickSize":0,"grid":false,"labelFontSize":16,"labelPadding":22,"labelColor":"#222"}},
"y2":{"datum":0},
"color":{"datum":"ARR","type":"nominal","scale":{"domain":["ARR","ECHAM5","ECHAM5 terkalibrasi"],"range":["#4472C4","#ED7D31","#000000"]},"legend":{"orient":"none","legendX":183,"legendY":25.5,"direction":"horizontal","title":null}}}},
{"data":{"values":[{}]},"mark":{"type":"rule","strokeWidth":2.5,"color":"#4472C4"},"encoding":{"x":{"datum":0,"type":"quantitative","axis":null},"x2":{"datum":1826},"y":{"datum":0,"type":"quantitative"}}},
{"data":{"name":"jM"},"mark":{"type":"line","strokeWidth":3,"strokeJoin":"round"},"encoding":{
"x":{"field":"d","type":"quantitative","axis":{"orient":"bottom","title":null,"values":[0,365,730,1095,1461],"labelExpr":"'' + (2001 + round(datum.value / 365.25))","labelOffset":85,"ticks":true,"tickSize":85,"tickColor":"#d9d9d9","tickWidth":1.5,"domain":false,"grid":false,"labelPadding":-12,"labelBaseline":"middle","labelAlign":"center","labelAngle":0,"labelFontSize":16,"labelFlush":false,"labelOverlap":false,"labelBound":false,"labelColor":"#222"}},
"y":{"field":"e","type":"quantitative"},"color":{"datum":"ECHAM5","type":"nominal"}}},
{"data":{"name":"jM"},"mark":{"type":"line","strokeWidth":3.5,"strokeJoin":"round"},"encoding":{"x":{"field":"d","type":"quantitative","axis":null},"y":{"field":"k","type":"quantitative"},"color":{"datum":"ECHAM5 terkalibrasi","type":"nominal"}}},
{"data":{"values":[{}]},"mark":{"type":"rect","color":"#d9d9d9"},"encoding":{"x":{"datum":1792,"type":"quantitative","axis":null},"x2":{"datum":1826},"y":{"datum":0,"type":"quantitative"},"y2":{"datum":-41.7}}},
{"data":{"values":[{}]},"mark":{"type":"text","text":"Jurang Sate","fontSize":29,"align":"center","baseline":"middle","color":"#000"},"encoding":{"x":{"datum":814,"type":"quantitative","axis":null},"y":{"datum":95.6,"type":"quantitative"}}},
{"data":{"values":[{}]},"mark":{"type":"rule","color":"#a6a6a6","strokeWidth":1.5},"encoding":{"x":{"datum":-167.6,"type":"quantitative","axis":null},"x2":{"datum":1856},"y":{"datum":108.3,"type":"quantitative"}}},
{"data":{"values":[{}]},"mark":{"type":"rule","color":"#a6a6a6","strokeWidth":1.5},"encoding":{"x":{"datum":-167.6,"type":"quantitative","axis":null},"y":{"datum":108.3,"type":"quantitative"},"y2":{"datum":-45.1}}},
{"data":{"values":[{}]},"mark":{"type":"rule","color":"#a6a6a6","strokeWidth":1.5},"encoding":{"x":{"datum":-167.6,"type":"quantitative","axis":null},"x2":{"datum":1856},"y":{"datum":-45.1,"type":"quantitative"}}}
]},
{"width":863,"height":217,"resolve":{"axis":{"x":"independent"}},"layer":[
{"data":{"values":[{}]},"mark":{"type":"rule","color":"#d9d9d9","strokeWidth":1.5},"encoding":{"x":{"datum":0,"type":"quantitative","axis":null},"x2":{"datum":1826},"y":{"datum":0,"type":"quantitative"}}},
{"data":{"values":[{}]},"mark":{"type":"rule","color":"#d9d9d9","strokeWidth":1.5},"encoding":{"x":{"datum":0,"type":"quantitative","axis":null},"x2":{"datum":1826},"y":{"datum":50,"type":"quantitative"}}},
{"data":{"values":[{}]},"mark":{"type":"rule","color":"#d9d9d9","strokeWidth":1.5},"encoding":{"x":{"datum":0,"type":"quantitative","axis":null},"x2":{"datum":1826},"y":{"datum":100,"type":"quantitative"}}},
{"data":{"name":"sA"},"mark":{"type":"rule","strokeWidth":3},"encoding":{
"x":{"field":"d","type":"quantitative","scale":{"domain":[-27.9,1826],"nice":false,"zero":false},"axis":{"orient":"bottom","title":null,"values":[4,95,126,216,304,336,397,427,519,549,611,639,736,825,856,945,1036,1066,1127,1192,1221,1312,1404,1433,1494,1523,1614,1643,1707,1735],"labelExpr":"['Jan','Apr','mei','Agt','Nop','Des','Feb','Mar','Jun','Jul','Sept','Okt','Jan','apr','mei','Agt','Nop','Des','feb','apr','mei','Agt','Nop','Des','feb','mar','Jun','Jul','Sep','Okt'][indexof([4,95,126,216,304,336,397,427,519,549,611,639,736,825,856,945,1036,1066,1127,1192,1221,1312,1404,1433,1494,1523,1614,1643,1707,1735],datum.value)]","labelAngle":-90,"labelAlign":"right","labelBaseline":"middle","ticks":false,"tickSize":0,"labelPadding":12,"grid":false,"domain":false,"labelOverlap":false,"labelFlush":false,"labelBound":false,"labelFontSize":17,"labelColor":"#222"}},
"y":{"field":"a","type":"quantitative","scale":{"domain":[0,100],"nice":false},"axis":{"title":null,"values":[0,50,100],"offset":-13,"domain":false,"ticks":false,"tickSize":0,"grid":false,"labelFontSize":17,"labelPadding":23,"labelColor":"#111"}},
"y2":{"datum":0},
"color":{"datum":"ARR","type":"nominal","scale":{"domain":["ARR","ECHAM5","EC5 terkalibrasi"],"range":["#4472C4","#ED7D31","#000000"]},"legend":{"orient":"none","legendX":186,"legendY":38.5,"direction":"horizontal","title":null}}}},
{"data":{"values":[{}]},"mark":{"type":"rule","strokeWidth":2.5,"color":"#4472C4"},"encoding":{"x":{"datum":0,"type":"quantitative","axis":null},"x2":{"datum":1826},"y":{"datum":0,"type":"quantitative"}}},
{"data":{"name":"sM"},"mark":{"type":"line","strokeWidth":3.5,"strokeJoin":"round"},"encoding":{
"x":{"field":"d","type":"quantitative","axis":{"orient":"bottom","title":null,"values":[0,365,730,1095,1461],"labelExpr":"'' + (2001 + round(datum.value / 365.25))","labelOffset":85,"ticks":true,"tickSize":84,"tickColor":"#d9d9d9","tickWidth":1.5,"domain":false,"grid":false,"labelPadding":-12,"labelBaseline":"middle","labelAlign":"center","labelAngle":0,"labelFontSize":16,"labelFlush":false,"labelOverlap":false,"labelBound":false,"labelColor":"#222"}},
"y":{"field":"e","type":"quantitative"},"color":{"datum":"ECHAM5","type":"nominal"}}},
{"data":{"name":"sM"},"mark":{"type":"line","strokeWidth":3.5,"strokeJoin":"round"},"encoding":{"x":{"field":"d","type":"quantitative","axis":null},"y":{"field":"k","type":"quantitative"},"color":{"datum":"EC5 terkalibrasi","type":"nominal"}}},
{"data":{"values":[{}]},"mark":{"type":"rect","color":"#d9d9d9"},"encoding":{"x":{"datum":1792,"type":"quantitative","axis":null},"x2":{"datum":1826},"y":{"datum":0,"type":"quantitative"},"y2":{"datum":-38.7}}},
{"data":{"values":[{}]},"mark":{"type":"text","text":"Sopak","fontSize":29,"align":"center","baseline":"middle","color":"#000"},"encoding":{"x":{"datum":767,"type":"quantitative","axis":null},"y":{"datum":88,"type":"quantitative"}}},
{"data":{"values":[{}]},"mark":{"type":"rule","color":"#a6a6a6","strokeWidth":1.5},"encoding":{"x":{"datum":-165.4,"type":"quantitative","axis":null},"x2":{"datum":1858},"y":{"datum":107.8,"type":"quantitative"}}},
{"data":{"values":[{}]},"mark":{"type":"rule","color":"#a6a6a6","strokeWidth":1.5},"encoding":{"x":{"datum":-165.4,"type":"quantitative","axis":null},"y":{"datum":107.8,"type":"quantitative"},"y2":{"datum":-44.2}}}
]}
],
"resolve":{"scale":{"x":"independent","y":"independent","color":"independent"},"legend":{"color":"independent"}},
"config":{"view":{"stroke":null},"font":"Lato","axis":{"labelFont":"Lato"},"text":{"font":"Lato"},
"legend":{"labelFont":"Lato","labelFontSize":19,"labelColor":"#000","symbolType":"stroke","symbolSize":2800,"symbolStrokeWidth":4,"columnPadding":6,"labelOffset":5,"labelLimit":400,"padding":0}}
}
